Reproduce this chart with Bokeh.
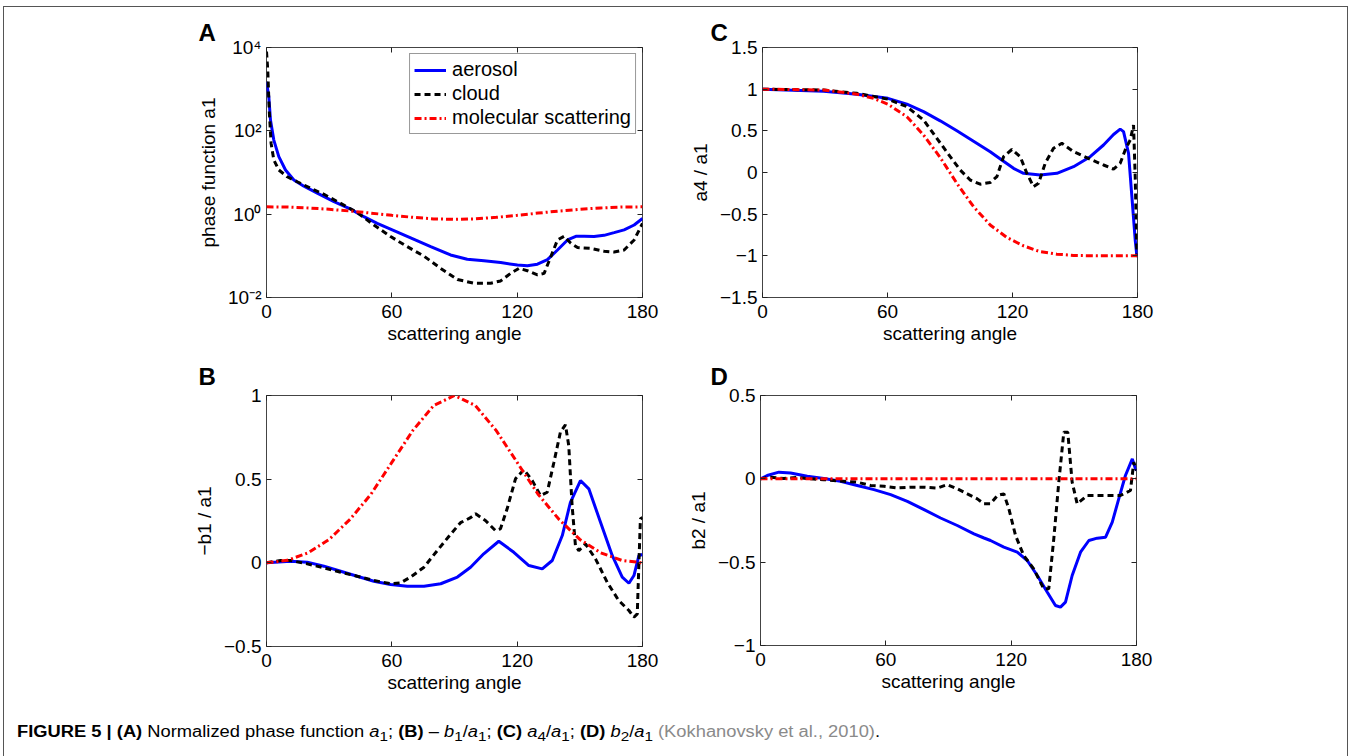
from bokeh.plotting import figure
from bokeh.layouts import column, row
from bokeh.models import (FixedTicker, LinearAxis, LogAxis, Title, Legend, Div,
                          Range1d, CustomJSTickFormatter)
from bokeh.embed import file_html
from bokeh.resources import INLINE

FONT = "Liberation Sans"

# ---------------- data ----------------
angle_ticks = [0, 60, 120, 180]
series_names = ["aerosol", "cloud", "molecular scattering"]
panel_letters = ["A", "B", "C", "D"]

# Panel A: phase function a1 (log scale)
a1_aer_x = [0, 1.1, 1.9, 3.5, 5.9, 9.1, 13.1, 17.9, 24.3, 32.3, 40.3, 46.6, 53, 60.2, 69, 78.6, 88.1,
            96.1, 104.1, 112.1, 120.1, 124.9, 129.7, 134.5, 139.3, 144.1, 148.1, 152.1, 156.8, 161.6,
            166.4, 171.2, 176, 180]
a1_aer_y = [1500, 660, 182, 60, 24, 11.5, 6.6, 4.7, 3.2, 2.0, 1.32, 0.87, 0.60, 0.42, 0.27, 0.166, 0.105,
            0.083, 0.076, 0.069, 0.060, 0.0575, 0.063, 0.081, 0.138, 0.24, 0.295, 0.295, 0.29, 0.31,
            0.36, 0.42, 0.55, 0.79]
a1_cld_x = [0, 0.6, 1.3, 2.2, 3.5, 5.9, 9.9, 14.7, 21.1, 27.5, 35.5, 43.4, 51.4, 59.4, 67.4, 75.4, 83.4,
            91.4, 99.3, 107.3, 112.1, 116.9, 120.9, 124.9, 129.7, 132.9, 136.1, 139.3, 142.5, 145.7,
            148.9, 155.3, 161.6, 166.4, 171.2, 176, 180]
a1_cld_y = [8000, 2900, 316, 50, 20, 11.5, 7.9, 6.0, 4.2, 3.0, 1.82, 1.10, 0.55, 0.29, 0.166, 0.098, 0.050,
            0.027, 0.022, 0.022, 0.025, 0.038, 0.050, 0.044, 0.035, 0.038, 0.095, 0.24, 0.295, 0.20,
            0.158, 0.151, 0.129, 0.123, 0.138, 0.24, 0.60]
a1_mol_x = [0, 10, 20, 30, 40, 50, 60, 70, 80, 90, 100, 110, 120, 130, 140, 150, 160, 170, 180]
a1_mol_y = [1.5, 1.48, 1.41, 1.31, 1.19, 1.06, 0.94, 0.84, 0.77, 0.75, 0.77, 0.84, 0.94, 1.06, 1.19,
            1.31, 1.41, 1.48, 1.5]
a1_ticks = [1e-2, 1, 1e2, 1e4]

# Panel B: -b1/a1
b1_aer_x = [0, 11.5, 19.5, 27.5, 35.5, 43.4, 51.4, 59.4, 67.4, 75.4, 83.4, 91.4, 97.7, 104.0, 111.2,
            118.4, 125.6, 132.0, 136.8, 141.6, 145.5, 150.3, 154.3, 159.9, 165.5, 170.3, 173.5, 175.9,
            178.3, 180]
b1_aer_y = [0, 0.01, 0.004, -0.02, -0.05, -0.08, -0.11, -0.13, -0.14, -0.14, -0.125, -0.085, -0.026,
            0.054, 0.129, 0.063, -0.016, -0.036, 0.014, 0.163, 0.362, 0.492, 0.442, 0.243, 0.044,
            -0.086, -0.122, -0.076, 0.044, 0.05]
b1_cld_x = [0, 6.7, 11.5, 19.5, 27.5, 35.5, 43.4, 51.4, 59.4, 64.2, 69, 75.4, 81.8, 88.1, 92.9, 97.7,
            100.1, 104.8, 109.6, 112.0, 115.2, 119.2, 123.2, 127.2, 131.2, 134.4, 137.6, 140.7, 143.1,
            144.7, 146.3, 147.9, 149.5, 152.7, 157.5, 163.1, 168.6, 173.5, 175.9, 177.5, 178.3, 179.0,
            180]
b1_cld_y = [0, 0.014, 0.014, -0.006, -0.03, -0.056, -0.08, -0.105, -0.125, -0.12, -0.085, -0.026, 0.074,
            0.17, 0.24, 0.27, 0.293, 0.253, 0.193, 0.203, 0.323, 0.502, 0.557, 0.492, 0.402, 0.422,
            0.601, 0.781, 0.825, 0.70, 0.342, 0.103, 0.073, 0.113, 0.024, -0.116, -0.225, -0.285,
            -0.325, -0.305, 0.004, 0.263, 0.27]
b1_mol_x = [0, 10, 20, 30, 40, 50, 60, 70, 80, 90, 100, 110, 120, 130, 140, 150, 160, 170, 180]
b1_mol_y = [0, 0.015, 0.06, 0.14, 0.26, 0.41, 0.60, 0.79, 0.94, 1.0, 0.94, 0.79, 0.60, 0.41, 0.26,
            0.14, 0.06, 0.015, 0]
b1_ticks = [-0.5, 0, 0.5, 1]

# Panel C: a4/a1
a4_aer_x = [0, 29.3, 45.3, 60.2, 69.3, 77.3, 85.3, 93.3, 101.3, 109.3, 115.7, 120.5, 125.3, 133.3,
            141.3, 149.3, 157.3, 163.7, 168.5, 171.7, 173.3, 175.7, 177.3, 178.9, 179.7, 180]
a4_aer_y = [1.0, 0.976, 0.94, 0.89, 0.82, 0.73, 0.62, 0.50, 0.376, 0.25, 0.136, 0.05, -0.01, -0.03,
            -0.01, 0.07, 0.19, 0.33, 0.456, 0.52, 0.49, 0.23, -0.29, -0.81, -1.0, -1.0]
a4_cld_x = [0, 29.3, 45.3, 60.2, 69.3, 77.3, 83.7, 90.1, 94.9, 99.7, 104.5, 109.3, 112.5, 115.7, 119.7,
            123.7, 126.9, 130.1, 132.5, 135.7, 139.7, 143.7, 149.3, 157.3, 163.7, 168.5, 171.7, 174.1,
            176.5, 178.1, 178.9, 179.7, 180]
a4_cld_y = [1.0, 0.99, 0.95, 0.88, 0.79, 0.63, 0.41, 0.19, 0.03, -0.09, -0.14, -0.12, -0.05, 0.19,
            0.276, 0.19, -0.01, -0.17, -0.13, 0.11, 0.29, 0.35, 0.25, 0.16, 0.09, 0.04, 0.11, 0.27,
            0.39, 0.57, -0.05, -1.0, -1.0]
a4_mol_x = [0, 29.3, 45.3, 53.3, 60.2, 69.3, 77.3, 85.3, 93.3, 101.3, 109.3, 117.3, 125.3, 133.3,
            141.3, 149.3, 160, 170, 180]
a4_mol_y = [1.0, 0.99, 0.94, 0.89, 0.82, 0.67, 0.45, 0.18, -0.13, -0.41, -0.63, -0.78, -0.88, -0.95,
            -0.98, -0.995, -1.0, -1.0, -1.0]
a4_ticks = [-1.5, -1, -0.5, 0, 0.5, 1, 1.5]

# Panel D: b2/a1
b2_aer_x = [0, 3.2, 8.8, 14.4, 22.4, 30.3, 38.3, 46.3, 54.3, 62.3, 70.3, 78.3, 86.2, 94.2, 102.2, 107,
            110.1, 116.5, 122.9, 127.7, 132.5, 137.3, 141.2, 143.6, 146.0, 149.2, 153.2, 157.2, 161.2,
            165.2, 168.4, 171.5, 174.7, 178.0, 179.5, 180]
b2_aer_y = [0, 0.02, 0.04, 0.035, 0.016, 0.002, -0.015, -0.04, -0.065, -0.095, -0.135, -0.185, -0.235,
            -0.28, -0.33, -0.355, -0.37, -0.41, -0.44, -0.49, -0.58, -0.68, -0.76, -0.77, -0.74, -0.58,
            -0.44, -0.37, -0.356, -0.35, -0.26, -0.12, 0.02, 0.12, 0.06, 0.05]
b2_cld_x = [0, 4.8, 11.2, 17.6, 24, 30.3, 38.3, 46.3, 52.7, 59.1, 65.5, 71.9, 78.3, 84.7, 89.4, 94.2,
            99, 103.8, 107, 110.1, 113.4, 116.5, 118.9, 122.1, 126.0, 130.8, 135.6, 138.0, 140.4, 142.8,
            145.2, 147.1, 149.2, 151.6, 156.4, 164.3, 172.3, 177.1, 178.7, 180]
b2_cld_y = [0, 0.01, 0.002, 0.008, 0, -0.005, -0.013, -0.02, -0.04, -0.045, -0.055, -0.05, -0.05, -0.055,
            -0.035, -0.06, -0.09, -0.12, -0.15, -0.15, -0.10, -0.09, -0.18, -0.34, -0.46, -0.54, -0.66,
            -0.66, -0.36, -0.02, 0.28, 0.28, -0.02, -0.15, -0.10, -0.10, -0.10, -0.07, 0.10, 0.05]
b2_mol_x = [0, 45, 90, 135, 180]
b2_mol_y = [0, 0, 0, 0, 0]
b2_ticks = [-1, -0.5, 0, 0.5]

# ---------------- styling helpers ----------------
SERIES_STYLE = [
    dict(line_color="#0000ff", line_width=3),
    dict(line_color="#000000", line_width=3, line_dash="6 4"),
    dict(line_color="#ff0000", line_width=3, line_dash="7 3 2 3"),
]

LIN_FMT = CustomJSTickFormatter(code="return tick < 0 ? '\u2212' + String(Math.abs(tick)) : String(tick);")
LOG_FMT = CustomJSTickFormatter(code="""
const e = Math.round(Math.log10(tick));
const sup = {'0':'\u2070','1':'\u00b9','2':'\u00b2','3':'\u00b3','4':'\u2074','-':'\u207b'};
return '10' + String(e).split('').map(c => sup[c]).join('');
""")
EMPTY_FMT = CustomJSTickFormatter(code="return '';")


def style_axis(ax, ticks, fmt):
    ax.ticker = FixedTicker(ticks=ticks)
    ax.formatter = fmt
    ax.axis_line_color = None
    ax.major_tick_in = 5
    ax.major_tick_out = 0
    ax.major_tick_line_color = "#222222"
    ax.minor_tick_line_color = None
    ax.major_label_text_font = FONT
    ax.major_label_text_font_size = "19px"
    ax.major_label_text_color = "#000000"
    ax.axis_label_text_font = FONT
    ax.axis_label_text_font_size = "19px"
    ax.axis_label_text_font_style = "normal"
    ax.axis_label_text_color = "#000000"


def make_panel(xs, ys, ylabel, yticks, yrange, letter, frame_w, frame_h, left, right, top, bottom,
               letter_dx, letter_standoff, log=False, legend=False):
    p = figure(frame_width=frame_w, frame_height=frame_h, output_backend="svg", toolbar_location=None,
               x_range=Range1d(0, 180), y_range=Range1d(*yrange),
               y_axis_type="log" if log else "linear",
               min_border_left=left, min_border_right=right, min_border_top=top,
               min_border_bottom=bottom)
    p.title = Title(text=letter, align="left", offset=letter_dx, standoff=letter_standoff,
                    text_font=FONT, text_font_size="24px", text_font_style="bold",
                    text_color="#000000", vertical_align="bottom")
    p.grid.visible = False
    p.outline_line_color = "#444444"
    p.outline_line_width = 1
    p.background_fill_color = "white"
    p.border_fill_color = None

    renderers = []
    for x, y, st in zip(xs, ys, SERIES_STYLE):
        renderers.append(p.line(x, y, **st))

    style_axis(p.xaxis[0], angle_ticks, LIN_FMT)
    p.xaxis[0].axis_label = "scattering angle"
    p.xaxis[0].major_label_standoff = 7
    p.xaxis[0].axis_label_standoff = 2
    style_axis(p.yaxis[0], yticks, LOG_FMT if log else LIN_FMT)
    p.yaxis[0].axis_label = ylabel
    p.yaxis[0].major_label_standoff = 5
    p.yaxis[0].axis_label_standoff = 6

    top_ax = LinearAxis()
    style_axis(top_ax, angle_ticks, EMPTY_FMT)
    top_ax.major_label_standoff = 0
    top_ax.major_label_text_font_size = "1px"
    p.add_layout(top_ax, "above")
    right_ax = LogAxis() if log else LinearAxis()
    style_axis(right_ax, yticks, EMPTY_FMT)
    right_ax.major_label_standoff = 0
    right_ax.major_label_text_font_size = "1px"
    p.add_layout(right_ax, "right")

    if legend:
        lg = Legend(items=[(n, [r]) for n, r in zip(series_names, renderers)],
                    location="top_right", margin=6, padding=4, spacing=1,
                    glyph_width=32, glyph_height=20, label_height=20, label_standoff=6,
                    label_text_font=FONT, label_text_font_size="20px", label_text_color="#000000",
                    border_line_color="#333333", border_line_width=1,
                    background_fill_color="white", background_fill_alpha=1.0)
        p.add_layout(lg)
    return p


pA = make_panel([a1_aer_x, a1_cld_x, a1_mol_x], [a1_aer_y, a1_cld_y, a1_mol_y],
                "phase function a1", a1_ticks, (1e-2, 1e4), panel_letters[0],
                376, 250, 262, 30, 40, 58, -68, 4, log=True, legend=True)
pC = make_panel([a4_aer_x, a4_cld_x, a4_mol_x], [a4_aer_y, a4_cld_y, a4_mol_y],
                "a4 / a1", a4_ticks, (-1.5, 1.5), panel_letters[2],
                375, 250, 90, 210, 40, 58, -52, 4)
pB = make_panel([b1_aer_x, b1_cld_x, b1_mol_x], [b1_aer_y, b1_cld_y, b1_mol_y],
                "\u2212b1 / a1", b1_ticks, (-0.5, 1.0), panel_letters[1],
                376, 251, 262, 30, 40, 60, -68, 11)
pD = make_panel([b2_aer_x, b2_cld_x, b2_mol_x], [b2_aer_y, b2_cld_y, b2_mol_y],
                "b2 / a1", b2_ticks, (-1.0, 0.5), panel_letters[3],
                376, 250, 88, 210, 40, 61, -50, 11)

caption_html = (
    '<b>FIGURE 5 | (A)</b> Normalized phase function <i>a</i><sub>1</sub>; '
    '<b>(B)</b> \u2013 <i>b</i><sub>1</sub>/<i>a</i><sub>1</sub>; '
    '<b>(C)</b> <i>a</i><sub>4</sub>/<i>a</i><sub>1</sub>; '
    '<b>(D)</b> <i>b</i><sub>2</sub>/<i>a</i><sub>1</sub> '
    '<span style="color:#8a8a8a">(Kokhanovsky et al., 2010)</span>.'
)
caption = Div(text=caption_html, width=1000, height=40, margin=(15, 0, 0, 13),
              styles={"font-family": FONT, "font-size": "16px", "color": "#000000",
                      "white-space": "nowrap", "transform": "scaleX(1.145)",
                      "transform-origin": "left top"})

layout = column(row(pA, pC), row(pB, pD), caption, margin=(6, 0, 0, 3),
                styles={"border": "1px solid #555555", "background-color": "white"})

open("out.html", "w").write(file_html(layout, INLINE))
